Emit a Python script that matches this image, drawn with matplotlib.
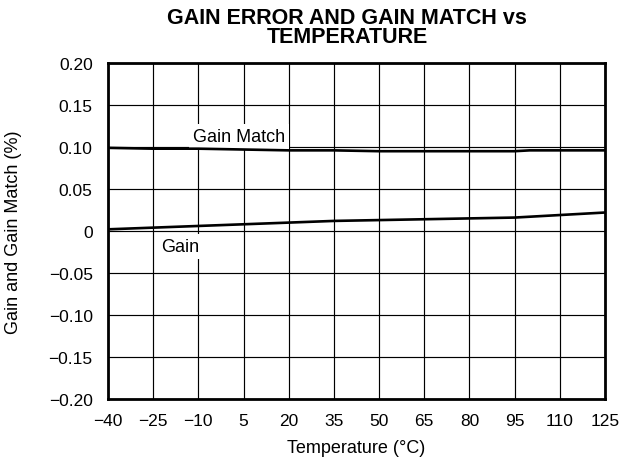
import matplotlib
matplotlib.use("Agg")
import matplotlib.pyplot as plt

temps = [-40, -25, -10, 5, 20, 35, 50, 65, 80, 95, 100, 110, 125]
gain = [0.002, 0.004, 0.006, 0.008, 0.010, 0.012, 0.013, 0.014, 0.015, 0.016, 0.017, 0.019, 0.022]
gain_match = [0.099, 0.098, 0.098, 0.097, 0.096, 0.096, 0.095, 0.095, 0.095, 0.095, 0.096, 0.096, 0.096]
xticks = [-40, -25, -10, 5, 20, 35, 50, 65, 80, 95, 110, 125]
yticks = [-0.20, -0.15, -0.10, -0.05, 0, 0.05, 0.10, 0.15, 0.20]
ylabels = ["\u22120.20", "\u22120.15", "\u22120.10", "\u22120.05", "0", "0.05", "0.10", "0.15", "0.20"]
xlabels = [str(t).replace("-", "\u2212") for t in xticks]

plt.rcParams['font.family'] = ['Liberation Sans', 'DejaVu Sans']
fig = plt.figure(figsize=(6.32, 4.64), dpi=100)
ax = fig.add_axes([108/632, 1-400/464, 497/632, 336/464])

ax.plot(temps, gain_match, color='black', lw=1.9, zorder=3)
ax.plot(temps, gain, color='black', lw=1.9, zorder=3)

ax.set_xlim(-40, 125)
ax.set_ylim(-0.20, 0.20)
ax.set_xticks(xticks)
ax.set_xticklabels(xlabels, fontsize=12.5)
ax.set_yticks(yticks)
ax.set_yticklabels(ylabels, fontsize=12.5)
ax.tick_params(axis='y', length=0, pad=11)
ax.tick_params(axis='x', length=0, pad=10)
ax.grid(True, color='black', lw=0.85)
ax.set_axisbelow(True)
for s in ax.spines.values():
    s.set_linewidth(2)

ax.text(-11.8, 0.1075, "Gain Match", fontsize=13, ha='left', va='baseline', zorder=2,
        bbox=dict(facecolor='white', edgecolor='none', pad=3))
ax.text(-22.4, -0.0242, "Gain", fontsize=13, ha='left', va='baseline', zorder=2,
        bbox=dict(facecolor='white', edgecolor='none', pad=3))

ax.set_xlabel("Temperature (\u00b0C)", fontsize=13, va='center')
ax.xaxis.set_label_coords(0.5, -(449-400)/336)
ax.set_ylabel("Gain and Gain Match (%)", fontsize=13, va='center')
ax.yaxis.set_label_coords((14-108)/497, 0.5)
fig.text(347/632, 1-28/464, "GAIN ERROR AND GAIN MATCH vs\nTEMPERATURE", ha='center', va='center',
         fontsize=15.5, fontweight='bold', linespacing=0.92)

fig.savefig("out.png", dpi=100, facecolor='white')
